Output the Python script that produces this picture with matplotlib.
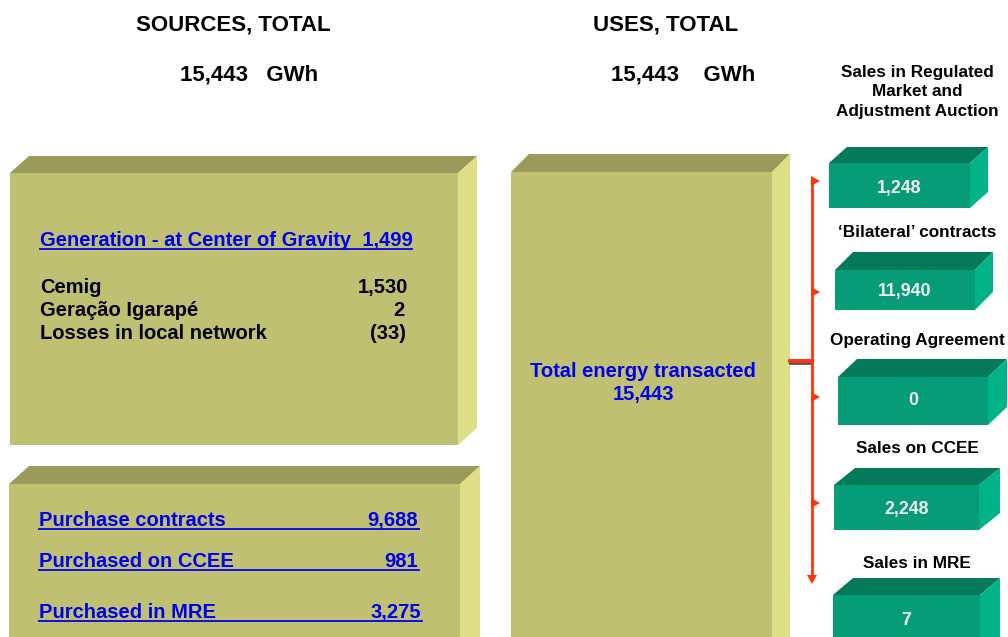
import matplotlib
matplotlib.use("Agg")
import matplotlib.pyplot as plt
from matplotlib.patches import Polygon

# ---- data ----
total_sources = "15,443"
total_uses = "15,443"
gen_title = "Generation - at Center of Gravity"
gen_total = "1,499"
gen_items = ["Cemig", "Geração Igarapé", "Losses in local network"]
gen_values = ["1,530", "2", "(33)"]
purchase_items = ["Purchase contracts", "Purchased on CCEE", "Purchased in MRE"]
purchase_values = ["9,688", "981", "3,275"]
total_label = "Total energy transacted"
use_labels = [["Sales in Regulated", "Market and", "Adjustment Auction"], ["\u2018Bilateral\u2019 contracts"],
              ["Operating Agreement"], ["Sales on CCEE"], ["Sales in MRE"]]
use_values = ["1,248", "11,940", "0", "2,248", "7"]

# ---- layout ----
W, H = 1008, 637
fig = plt.figure(figsize=(W / 100, H / 100), dpi=100)
ax = fig.add_axes([0, 0, 1, 1])
ax.set_xlim(0, W)
ax.set_ylim(H, 0)
ax.axis("off")

FONT = "Liberation Sans"
FS = 14.5

def box3d(x0, y0, x1, y1, dx, dy, front, top, side, z=1):
    ax.add_patch(Polygon([(x0, y0), (x1, y0), (x1, y1), (x0, y1)], closed=True,
                         facecolor=front, edgecolor="none", zorder=z))
    ax.add_patch(Polygon([(x0, y0), (x0 + dx, y0 - dy), (x1 + dx, y0 - dy), (x1, y0)], closed=True,
                         facecolor=top, edgecolor="none", zorder=z))
    ax.add_patch(Polygon([(x1, y0), (x1 + dx, y0 - dy), (x1 + dx, y1 - dy), (x1, y1)], closed=True,
                         facecolor=side, edgecolor="none", zorder=z))

OL_FRONT, OL_TOP, OL_SIDE = "#C0C073", "#9A9A5A", "#DEDE86"
GR_FRONT, GR_TOP, GR_SIDE = "#069C77", "#047A5A", "#00B487"
BLUE = "#0000EE"

# headers
hkw = dict(fontsize=16, fontweight="bold", family=FONT, ha="center", va="baseline")
ax.text(233, 30, "SOURCES, TOTAL", **hkw)
ax.text(249, 80, f"{total_sources}   GWh", **hkw)
ax.text(666, 31, "USES, TOTAL", **hkw)
ax.text(683, 80, f"{total_uses}    GWh", **hkw)

# source boxes
box3d(10, 173, 458, 445, 19, 17, OL_FRONT, OL_TOP, OL_SIDE)
box3d(9, 484, 460, 660, 20, 18, OL_FRONT, OL_TOP, OL_SIDE)
# total box
box3d(511, 172, 772, 660, 18, 18, OL_FRONT, OL_TOP, OL_SIDE)

tkw = dict(fontsize=FS, fontweight="bold", family=FONT, va="baseline", zorder=3)

# generation text
ax.text(40, 246, f"{gen_title}  {gen_total}", color=BLUE, ha="left", **tkw)
ax.plot([40, 412], [248.5, 248.5], color=BLUE, lw=1.3, zorder=3)
gy = [293, 316, 339]
gx = [408, 404, 406]
for lab, val, y, xr in zip(gen_items, gen_values, gy, gx):
    ax.text(40, y, lab, ha="left", **tkw)
    ax.text(xr, y, val, ha="right", **tkw)

# purchase text
py = [526, 567, 618]
pxr = [418, 418, 421]
for lab, val, y, xr in zip(purchase_items, purchase_values, py, pxr):
    ax.text(39, y, lab, color=BLUE, ha="left", **tkw)
    ax.text(xr, y, val, color=BLUE, ha="right", **tkw)
    ax.plot([39, xr + 1], [y + 2.5, y + 2.5], color=BLUE, lw=1.3, zorder=3)

# total text
ax.text(643, 377, total_label, color=BLUE, ha="center", **tkw)
ax.text(643, 400, total_uses, color=BLUE, ha="center", **tkw)

# green boxes
gboxes = [(829, 163, 970, 208, 18, 16),
          (835, 270, 975, 310, 18, 18),
          (838, 377, 988, 425, 19, 18),
          (834, 485, 979, 530, 21, 17),
          (833, 595, 980, 660, 20, 17)]
value_base = [193, 296, 405, 514, 625]
label_base = [77, 237, 345, 453, 568]
arrow_y = [181, 292, 397, 503]
for (x0, y0, x1, y1, dx, dy), val, yb in zip(gboxes, use_values, value_base):
    box3d(x0, y0, x1, y1, dx, dy, GR_FRONT, GR_TOP, GR_SIDE, z=2)
    ax.text((x0 + x1) / 2, yb, val, fontsize=12.8, fontweight="bold", family=FONT,
            color="#F2F2F2", ha="center", va="baseline", zorder=3)
for lines, yb in zip(use_labels, label_base):
    for i, line in enumerate(lines):
        ax.text(917, yb + i * 19.5, line, fontsize=12.3, fontweight="bold", family=FONT,
                ha="center", va="baseline", zorder=3)

# red connector
RED = "#FF3311"
ax.plot([790, 812], [363, 363], color="#555555", lw=2, zorder=2)
ax.plot([790, 812], [361, 361], color=RED, lw=2.8, zorder=3)
ax.plot([812, 812], [181, 578], color=RED, lw=2, zorder=3)
for y in arrow_y:
    ax.add_patch(Polygon([(811, y - 5), (820, y), (811, y + 5)], closed=True,
                         facecolor=RED, edgecolor="none", zorder=3))
ax.add_patch(Polygon([(807, 575), (817, 575), (812, 584)], closed=True,
                     facecolor=RED, edgecolor="none", zorder=3))

fig.savefig("out.png", dpi=100, facecolor="white")
